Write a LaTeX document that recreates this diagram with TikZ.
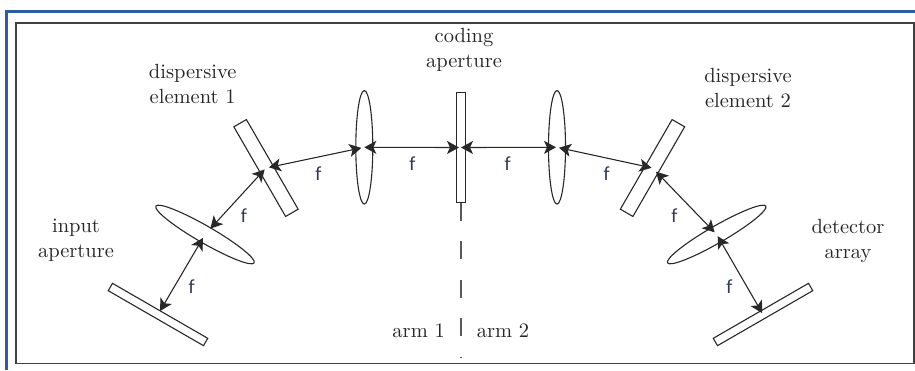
\documentclass[tikz,border=0pt]{standalone}
\usepackage{fontspec}
\usepackage{tikz}
\usetikzlibrary{arrows.meta,shapes.geometric}
\newfontfamily\flabelfont{Carlito}
\definecolor{frameBlue}{RGB}{44,92,170}
\definecolor{optLine}{RGB}{40,40,40}
\definecolor{armDash}{RGB}{90,90,90}
\definecolor{fInk}{RGB}{50,60,85}
\tikzset{
  plate/.style={draw=optLine,fill=white,line width=1.1pt,inner sep=0pt,outer sep=0pt,minimum height=#1},
  plate/.default=8.5pt,
  lens/.style={ellipse,draw=optLine,line width=1.1pt,inner sep=0pt,outer sep=0pt,minimum width=113.5pt,minimum height=17pt},
  lbl/.style={align=center,scale=2.05,font=\fontsize{10}{12.2}\selectfont,text=black!85},
  flabel/.style={font=\flabelfont\fontsize{20}{20}\selectfont,text=fInk,inner sep=0pt},
  biarrow/.style={{Stealth[length=12pt,width=13pt,inset=3pt]}-{Stealth[length=12pt,width=13pt,inset=3pt]},optLine,line width=1.1pt}
}

\begin{document}
\begin{tikzpicture}[x=1pt,y=-1pt]
  \useasboundingbox (0,0) rectangle (915,370);
  % page rules
  \fill[frameBlue] (5,10) rectangle (915,13);
  \fill[frameBlue] (5,10) rectangle (7.5,370);
  \draw[black!75,line width=1.6pt] (16,23) rectangle (914,363.5);
  % optical elements
  \node[plate,minimum width=110pt,rotate=-30] (inputap) at (158,314.5) {};
  \node[lens,rotate=-30] (lensa) at (205,234.5) {};
  \node[plate=14.5pt,minimum width=103.5pt,rotate=-60] (dispa) at (266,168) {};
  \node[lens,rotate=90] (lensb) at (364.3,147.3) {};
  \node[plate=9pt,minimum width=110pt,rotate=90] (coding) at (461,147.5) {};
  \node[lens,rotate=90] (lensc) at (557,147.3) {};
  \node[plate=14.5pt,minimum width=103.5pt,rotate=60] (dispb) at (652.5,168) {};
  \node[lens,rotate=30] (lensd) at (716.7,234.5) {};
  \node[plate,minimum width=110pt,rotate=30] (detector) at (763,314.5) {};
  % focal distances
  \foreach \a/\b/\s/\t in {inputap/lensa/4/4,lensa/dispa/8/2,dispa/lensb/3/3,lensb/coding/0/2,
    coding/lensc/0/1,lensc/dispb/2/1,dispb/lensd/5/3,lensd/detector/2/1.5}{
    \draw[biarrow,shorten <=\s pt,shorten >=\t pt] (\a.center) -- (\b.center);
  }
  \coordinate (armend) at (461,358);
  \draw[armDash,line width=1.3pt,dash pattern=on 18pt off 20.5pt] (coding.west) -- (armend);
  \foreach \i/\x/\y in {1/191.7/286.7,2/244/216,3/318.3/174,4/412.3/163.3,
    5/507.7/163.3,6/606.7/173.3,7/674.3/216,8/729.3/286.7}{
    \node[flabel] (f\i) at (\x,\y) {f};
  }
  % labels
  \node[lbl] (inputlbl) at (76,240) {input\\aperture};
  \node[lbl] (dispalbl) at (192.7,84) {dispersive\\element 1};
  \node[lbl] (codinglbl) at (464,50) {coding\\aperture};
  \node[lbl] (dispblbl) at (748,88) {dispersive\\element 2};
  \node[lbl] (detectorlbl) at (848,241) {detector\\array};
  \node[lbl] (armone) at (418.7,331) {arm 1};
  \node[lbl] (armtwo) at (503,331) {arm 2};
\end{tikzpicture}
\end{document}
